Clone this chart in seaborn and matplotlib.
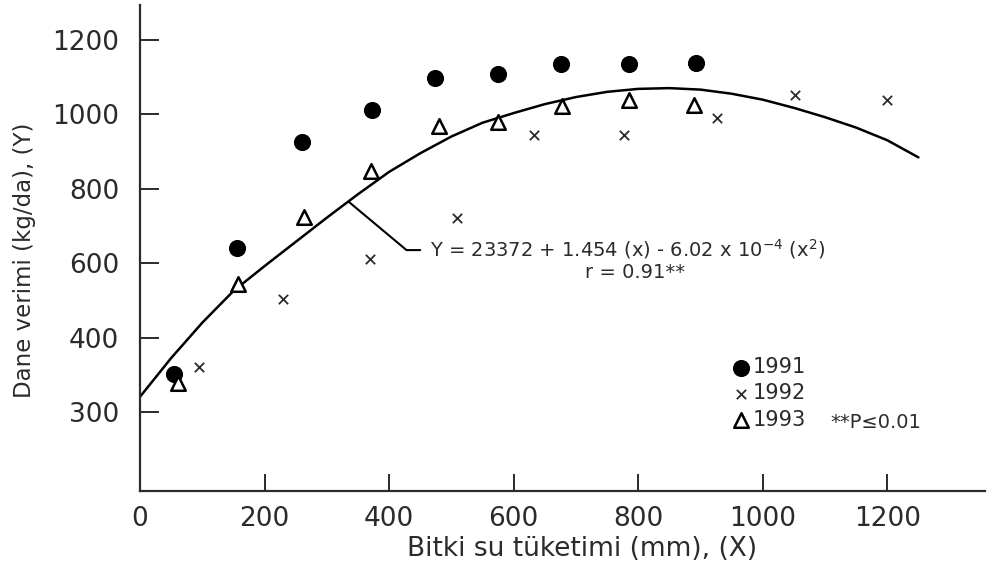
import matplotlib
matplotlib.use('Agg')
import pandas as pd
import matplotlib.pyplot as plt
import seaborn as sns

# values
x_1991 = [54, 156, 260, 373, 473, 575, 676, 786, 893]
y_1991 = [301, 640, 926, 1011, 1096, 1108, 1135, 1135, 1138]

x_1992 = [95, 230, 369, 509, 633, 778, 926, 1052, 1199]
y_1992 = [320, 505, 610, 720, 945, 945, 991, 1051, 1038]

x_1993 = [61, 158, 263, 371, 480, 575, 678, 786, 889]
y_1993 = [277, 545, 723, 847, 968, 979, 1021, 1039, 1024]

# fitted curve as drawn in the figure
curve_x = [0, 50, 100, 150, 200, 250, 300, 350, 400, 450, 500, 550, 600,
           650, 700, 750, 800, 850, 900, 950, 1000, 1050, 1100, 1150, 1200, 1250]
curve_y = [241, 345, 440, 525, 592, 657, 722, 785, 845, 895, 940, 977, 1003,
           1027, 1046, 1060, 1068, 1070, 1066, 1055, 1039, 1017, 992, 964, 930, 884]

x_ticks = [0, 200, 400, 600, 800, 1000, 1200]
y_ticks = [200, 400, 600, 800, 1000, 1200]
y_ticklabels = ['300', '400', '600', '800', '1000', '1200']

sns.set_style('white')
plt.rcParams['font.family'] = ['DejaVu Sans']

ink = '#2b2b2b'
fig = plt.figure(figsize=(9.9, 5.66), dpi=100)
ax = fig.add_axes([0.1414, 0.1325, 0.8536, 0.8585])

curve = pd.DataFrame({'x': curve_x, 'y': curve_y})
sns.lineplot(data=curve, x='x', y='y', ax=ax, color='black', linewidth=1.8, sort=False)

d91 = pd.DataFrame({'x': x_1991, 'y': y_1991})
d92 = pd.DataFrame({'x': x_1992, 'y': y_1992})
d93 = pd.DataFrame({'x': x_1993, 'y': y_1993})
sns.scatterplot(data=d91, x='x', y='y', ax=ax, marker='o', s=130, color='black',
                edgecolor='black', label='1991', zorder=3)
sns.scatterplot(data=d92, x='x', y='y', ax=ax, marker='x', s=45, color=ink,
                linewidth=1.3, label='1992', zorder=3)
sns.scatterplot(data=d93, x='x', y='y', ax=ax, marker='^', s=110, facecolor='white',
                edgecolor='black', linewidth=1.8, label='1993', zorder=3)

ax.set_xlim(0, 1357)
ax.set_ylim(-12, 1293)
ax.set_xticks(x_ticks)
ax.set_yticks(y_ticks)
ax.set_yticklabels(y_ticklabels)

for side in ['top', 'right']:
    ax.spines[side].set_visible(False)
for side in ['left', 'bottom']:
    ax.spines[side].set_linewidth(1.6)
    ax.spines[side].set_color(ink)
ax.tick_params(axis='y', left=True, direction='in', length=14, width=1.4,
               colors=ink, labelsize=19, pad=15)
ax.tick_params(axis='x', bottom=True, direction='in', length=12, width=1.4,
               colors=ink, labelsize=19, pad=11)

ax.set_xlabel('Bitki su tüketimi (mm), (X)', fontsize=19, color=ink)
ax.set_ylabel('Dane verimi (kg/da), (Y)', fontsize=16.5, color=ink)
ax.xaxis.set_label_coords(0.523, -0.092)
ax.yaxis.set_label_coords(-0.123, 0.475)

# leader line from the curve to the equation
ax.plot([335, 428, 450], [765, 635, 635], color='black', linewidth=1.5)
ax.text(466, 638, 'Y = 23372 + 1.454 (x) - 6.02 x 10$^{-4}$ (x$^{2}$)',
        ha='left', va='center', fontsize=14, color=ink)
ax.text(795, 574, 'r = 0.91**', ha='center', va='center', fontsize=14,
        color=ink)

leg = ax.legend(loc='upper left', bbox_to_anchor=(0.687, 0.297), frameon=False,
                handletextpad=0.05, handlelength=1.0, labelspacing=0.3,
                borderpad=0, fontsize=15)
for t in leg.get_texts():
    t.set_color(ink)
ax.text(0.817, 0.142, '**P≤0.01', transform=ax.transAxes, ha='left',
        va='center', fontsize=14, color=ink)

fig.savefig('out.png', dpi=100)
